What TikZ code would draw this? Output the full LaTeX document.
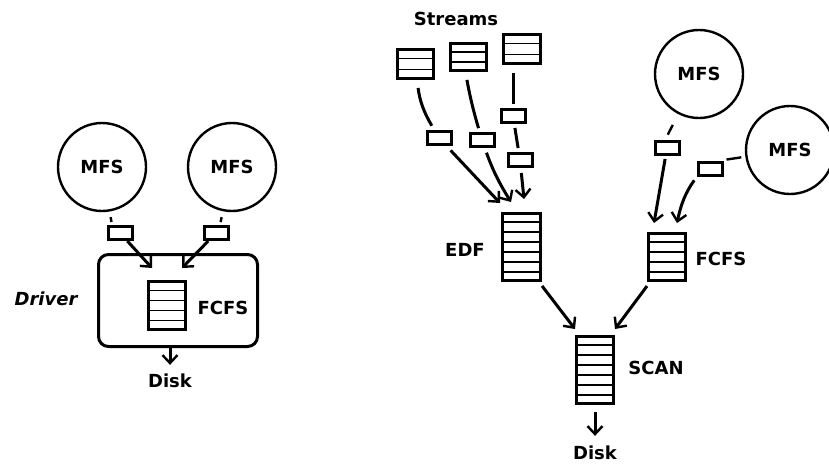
\documentclass[tikz,border=0pt]{standalone}
\usepackage{fontspec}
\setmainfont{DejaVu Sans}
\usetikzlibrary{arrows.meta,calc}

\tikzset{
  lbl/.style={font=\fontsize{18}{21}\selectfont\bfseries, inner sep=1pt},
  mfs/.style={circle, draw, line width=2.4pt, minimum size=88pt, inner sep=0pt, lbl},
  pkt/.style={draw, line width=3pt, minimum width=24pt, minimum height=13pt, inner sep=0pt},
  queue/.style={draw, line width=3pt, inner sep=0pt},
  rowline/.style={line width=1.1pt},
  tick/.style={line width=2.4pt},
  flow/.style={line width=3pt, -{Straight Barb[length=8pt,width=15pt,line width=2.4pt]}},
  link/.style={line width=3pt}
}

% horizontal separators inside a queue node: name, number of rows
\newcommand\queuelines[2]{%
  \pgfmathtruncatemacro\qlast{#2-1}%
  \foreach \k in {1,...,\qlast}{%
    \draw[rowline] ($(#1.north west)!\k/#2!(#1.south west)$) -- ($(#1.north east)!\k/#2!(#1.south east)$);
  }}

% short stub leaving a packet towards its source circle
\newcommand\stub[4]{\draw[tick] ($(#1)!#3!(#2)$) -- ($(#1)!#4!(#2)$);}

\begin{document}
\begin{tikzpicture}[x=1pt, y=-1pt]
\useasboundingbox (0,0) rectangle (829,464);

% ---------------- single driver with FCFS ----------------
\node[mfs] (m1) at (102,167) {MFS};
\node[mfs] (m2) at (232,167) {MFS};
\node[pkt] (p1) at (120,233) {};
\node[pkt] (p2) at (216,233) {};
\stub{[xshift=-8pt]p1.north}{m1}{3pt}{8pt}
\stub{[xshift=4pt]p2.north}{m2}{3pt}{8pt}

\node[draw, line width=3pt, rounded corners=10pt, minimum width=159pt, minimum height=92pt] (drv) at (178,300.5) {};
\node[queue, minimum width=37pt, minimum height=48pt] (fq1) at (167,305.5) {};
\queuelines{fq1}{5}
\node[lbl] at (223,308) {FCFS};
\node[lbl, font=\fontsize{18}{21}\selectfont\bfseries\itshape] at (46,299) {Driver};

\coordinate (a1) at (152,268);
\coordinate (a2) at (182,268);
\draw[flow] (p1) -- (a1);
\draw[flow] (p2) -- (a2);

\node[lbl] (disk1) at (170,381) {Disk};
\draw[flow, shorten >=8pt] (drv.south -| disk1) -- (disk1.north);

% ---------------- two-level scheduler ----------------
\node[lbl] at (456,19) {Streams};
\node[queue, minimum width=36pt, minimum height=29pt] (s1) at (415.5,64) {};
\node[queue, minimum width=36pt, minimum height=27pt] (s2) at (468.5,57) {};
\node[queue, minimum width=37pt, minimum height=29pt] (s3) at (522,49) {};
\queuelines{s1}{3}
\queuelines{s2}{3}
\queuelines{s3}{3}

\node[pkt] (pa) at (439,138) {};
\node[pkt] (pb) at (482,140) {};
\node[pkt] (pc1) at (513,116) {};
\node[pkt] (pc2) at (520,160) {};

\draw[link, shorten <=8pt, shorten >=5pt] (s1) to[bend right=12] (pa);
\draw[link, shorten <=8pt, shorten >=4pt] ([xshift=-3pt]s2.south) to[bend right=3] (pb);
\draw[link, shorten <=8pt, shorten >=4pt] (s3.south -| pc1) -- (pc1.north);
\draw[link, shorten <=4pt, shorten >=4pt] (pc1) -- (pc2);

\node[queue, minimum width=38pt, minimum height=67pt] (edf) at (521.5,247) {};
\queuelines{edf}{7}
\node[lbl] at (465,250) {EDF};

\coordinate (e1) at (500,203);
\coordinate (e2) at (511,202);
\coordinate (e3) at (524,199);
\draw[flow, shorten <=6pt] (pa) -- (e1);
\draw[flow, shorten <=5pt] (pb) to[bend right=6] (e2);
\draw[flow, shorten <=5pt] (pc2) -- (e3);

\node[mfs] (m3) at (699,74) {MFS};
\node[mfs] (m4) at (790,150) {MFS};
\node[pkt] (pd) at (667,148) {};
\node[pkt] (pe) at (710,169) {};
\stub{[xshift=-2pt]pd.north}{m3}{6pt}{17pt}
\stub{[yshift=1pt]pe.north east}{m4}{3pt}{18pt}

\node[queue, minimum width=37pt, minimum height=47pt] (fq2) at (667,257) {};
\queuelines{fq2}{5}
\node[lbl] at (721,259) {FCFS};

\coordinate (f1) at (654,223);
\coordinate (f2) at (677,223);
\draw[flow, shorten <=3pt] (pd) -- (f1);
\draw[flow, shorten <=4pt] (pe.south west) to[out=235, in=78] (f2);

\node[queue, minimum width=37pt, minimum height=67pt] (scan) at (595,370) {};
\queuelines{scan}{7}
\node[lbl] at (656,368) {SCAN};

\coordinate (g1) at (575,329);
\coordinate (g2) at (615,329);
\draw[flow, shorten <=5pt] ([xshift=-3pt]edf.south east) -- (g1);
\draw[flow, shorten <=5pt] ([xshift=3pt]fq2.south west) -- (g2);

\node[lbl] (disk2) at (595,453) {Disk};
\draw[flow, shorten <=7pt, shorten >=9pt] (scan) -- (disk2);
\end{tikzpicture}
\end{document}
